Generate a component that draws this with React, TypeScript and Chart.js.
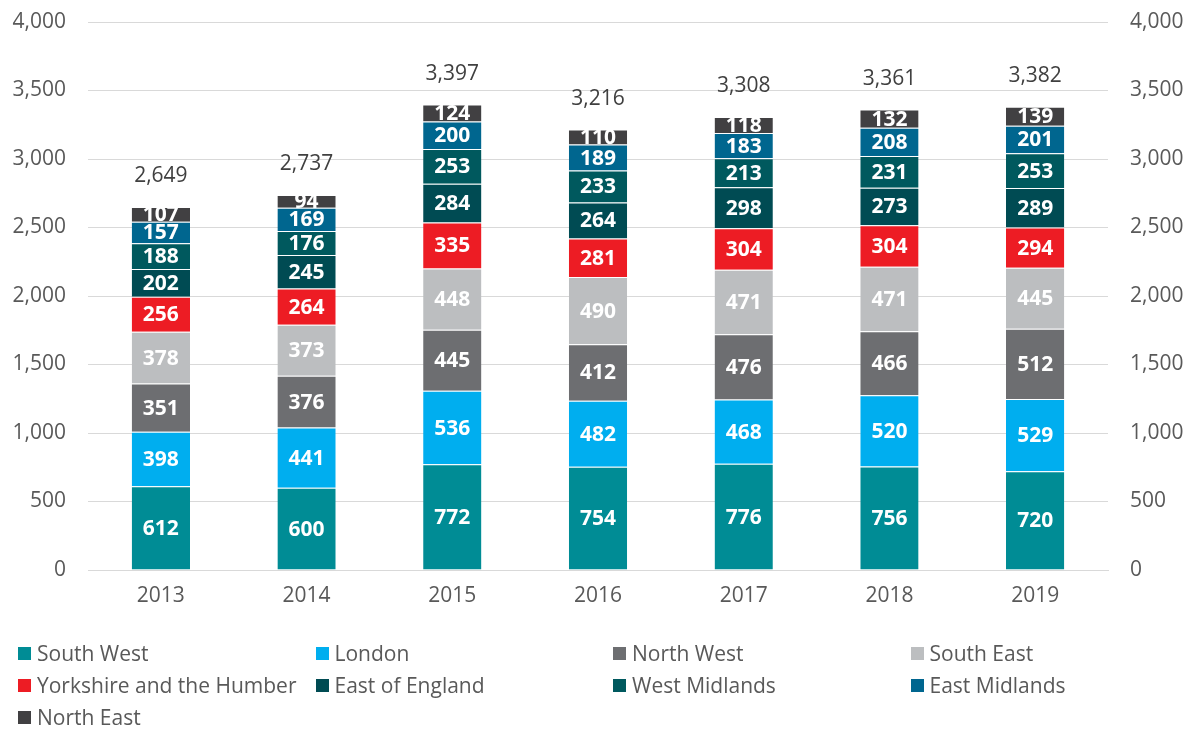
import React, { useEffect, useRef } from "react";
import { Chart, registerables } from "chart.js";

Chart.register(...registerables);

const years = ["2013", "2014", "2015", "2016", "2017", "2018", "2019"];
const southWest = [612, 600, 772, 754, 776, 756, 720];
const london = [398, 441, 536, 482, 468, 520, 529];
const northWest = [351, 376, 445, 412, 476, 466, 512];
const southEast = [378, 373, 448, 490, 471, 471, 445];
const yorkshire = [256, 264, 335, 281, 304, 304, 294];
const eastOfEngland = [202, 245, 284, 264, 298, 273, 289];
const westMidlands = [188, 176, 253, 233, 213, 231, 253];
const eastMidlands = [157, 169, 200, 189, 183, 208, 201];
const northEast = [107, 94, 124, 110, 118, 132, 139];
const totals = [2649, 2737, 3397, 3216, 3308, 3361, 3382];

const seriesNames = [
  "South West",
  "London",
  "North West",
  "South East",
  "Yorkshire and the Humber",
  "East of England",
  "West Midlands",
  "East Midlands",
  "North East",
];
const seriesValues = [
  southWest,
  london,
  northWest,
  southEast,
  yorkshire,
  eastOfEngland,
  westMidlands,
  eastMidlands,
  northEast,
];
const seriesColors = [
  "#008C95",
  "#00AEEF",
  "#6D6E71",
  "#BCBEC0",
  "#ED1C24",
  "#004B53",
  "#00595E",
  "#00668F",
  "#414042",
];

const FONT = "'Open Sans', 'DejaVu Sans', sans-serif";
const TEXT = "#595959";

const fmt = (v: number) => v.toLocaleString("en-US");

const labelPlugin = {
  id: "segLabels",
  afterDatasetsDraw(chart: any) {
    const ctx = chart.ctx;
    ctx.save();
    ctx.textAlign = "center";
    ctx.textBaseline = "middle";
    ctx.font = `bold 21px ${FONT}`;
    ctx.fillStyle = "#FFFFFF";
    chart.data.datasets.forEach((ds: any, di: number) => {
      const meta = chart.getDatasetMeta(di);
      meta.data.forEach((bar: any, i: number) => {
        const y = (bar.y + bar.base) / 2;
        ctx.fillText(fmt(ds.data[i]), bar.x, y + 1);
      });
    });
    const lastMeta = chart.getDatasetMeta(chart.data.datasets.length - 1);
    ctx.font = `21px ${FONT}`;
    ctx.fillStyle = "#404040";
    lastMeta.data.forEach((bar: any, i: number) => {
      ctx.fillText(fmt(totals[i]), bar.x, bar.y - 31);
    });
    ctx.restore();
  },
};

const fixY = (w: number) => (s: any) => {
  s.width = w;
  s.paddingTop = 0;
  s.paddingBottom = 0;
};

export default function App() {
  const ref = useRef<HTMLCanvasElement>(null);
  useEffect(() => {
    if (!ref.current) return;
    const chart = new Chart(ref.current, {
      type: "bar",
      data: {
        labels: years,
        datasets: seriesNames.map((name, k) => ({
          label: name,
          data: seriesValues[k],
          backgroundColor: seriesColors[k],
          borderColor: "rgba(255,255,255,0.35)",
          borderWidth: { top: 1, bottom: 0, left: 0, right: 0 },
          borderSkipped: false,
          yAxisID: "y",
          barPercentage: 0.4,
          categoryPercentage: 1,
        })),
      },
      options: {
        responsive: false,
        animation: false,
        devicePixelRatio: 1,
        layout: { padding: { top: 22, left: 0, right: 0, bottom: 0 } },
        plugins: {
          legend: { display: false },
          tooltip: { enabled: false },
        },
        scales: {
          x: {
            stacked: true,
            grid: { display: false, drawTicks: false },
            border: { display: true, color: "#D9D9D9", width: 1 },
            ticks: { color: TEXT, font: { family: FONT, size: 21 }, padding: 13 },
            afterFit: (s: any) => {
              s.height = 60;
              s.paddingLeft = 0;
              s.paddingRight = 0;
            },
          },
          y: {
            stacked: true,
            position: "left",
            min: 0,
            max: 4000,
            grid: { color: "#D9D9D9", drawTicks: false, lineWidth: 1 },
            border: { display: false },
            ticks: {
              stepSize: 500,
              color: TEXT,
              font: { family: FONT, size: 21 },
              padding: 22,
              callback: (v: any) => fmt(Number(v)),
            },
            afterFit: fixY(88),
          },
          y2: {
            position: "right",
            min: 0,
            max: 4000,
            grid: { display: false, drawTicks: false },
            border: { display: false },
            ticks: {
              stepSize: 500,
              color: TEXT,
              font: { family: FONT, size: 21 },
              padding: 22,
              callback: (v: any) => fmt(Number(v)),
            },
            afterFit: fixY(87),
          },
        },
      },
      plugins: [labelPlugin],
    } as any);
    return () => chart.destroy();
  }, []);

  return (
    <div
      style={{
        position: "fixed",
        left: 0,
        top: 0,
        width: 1195,
        height: 729,
        background: "#fff",
        fontFamily: FONT,
      }}
    >
      <canvas ref={ref} width={1195} height={630} style={{ display: "block" }} />
      <div
        style={{
          position: "absolute",
          left: 18,
          top: 637,
          display: "grid",
          gridTemplateColumns: "297.5px 297.5px 297.5px 297.5px",
          gridAutoRows: "32px",
        }}
      >
        {seriesNames.map((name, k) => (
          <div
            key={name}
            style={{ display: "flex", alignItems: "center", color: TEXT, fontSize: 21, whiteSpace: "nowrap" }}
          >
            <span
              style={{
                display: "inline-block",
                width: 13,
                height: 13,
                background: seriesColors[k],
                marginRight: 6,
                flexShrink: 0,
              }}
            />
            <span>{name}</span>
          </div>
        ))}
      </div>
    </div>
  );
}
